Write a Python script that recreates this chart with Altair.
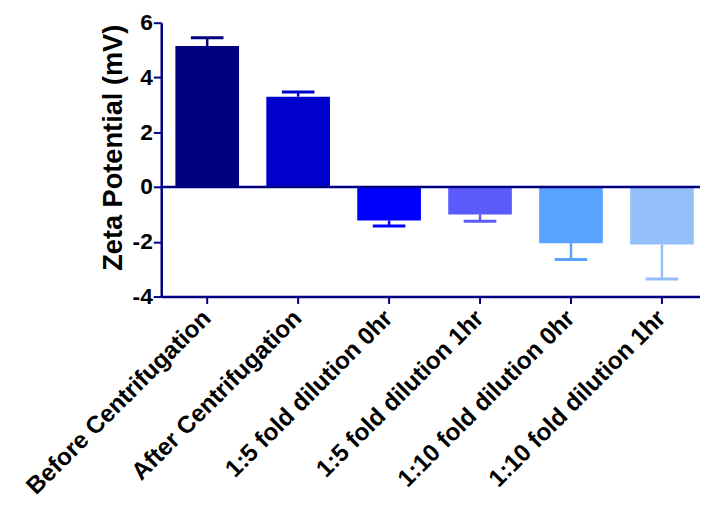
import altair as alt
import pandas as pd

categories = [
    "Before Centrifugation",
    "After Centrifugation",
    "1:5 fold dilution 0hr",
    "1:5 fold dilution 1hr",
    "1:10 fold dilution 0hr",
    "1:10 fold dilution 1hr",
]
values = [5.15, 3.30, -1.22, -1.00, -2.05, -2.10]
errors = [0.30, 0.17, 0.20, 0.25, 0.60, 1.26]
colors = ["#000080", "#0000CC", "#0000FF", "#5B5BFB", "#57A3FF", "#94C0FA"]
y_ticks = [-4, -2, 0, 2, 4, 6]

df = pd.DataFrame({"cat": categories, "value": values, "err": errors})
df["end"] = [v + (e if v >= 0 else -e) for v, e in zip(values, errors)]

NAVY = "#000080"
FONT = "Liberation Sans"

x_enc = alt.X(
    "cat:N",
    sort=categories,
    title=None,
    scale=alt.Scale(paddingInner=0.3, paddingOuter=0.112, align=0.694, round=False),
    axis=alt.Axis(
        labelAngle=-45,
        labelAlign="right",
        labelBaseline="middle",
        labelFont=FONT,
        labelFontSize=24.5,
        labelFontWeight="bold",
        labelColor="black",
        labelPadding=11,
        labelLimit=400,
        tickSize=7,
        tickColor=NAVY,
        tickWidth=2,
        domainColor=NAVY,
        domainWidth=2.5,
        grid=False,
    ),
)
y_scale = alt.Scale(domain=[-4, 6], nice=False, zero=False)
color_enc = alt.Color("cat:N", scale=alt.Scale(domain=categories, range=colors), legend=None)

base = alt.Chart(df)

bars = base.mark_bar(opacity=1).encode(
    x=x_enc,
    y=alt.Y(
        "value:Q",
        scale=y_scale,
        title="Zeta Potential (mV)",
        axis=alt.Axis(
            values=y_ticks,
            labelExpr="(datum.value < 0 ? '-' : '') + abs(datum.value)",
            labelFont=FONT,
            labelFontSize=23,
            labelFontWeight="bold",
            labelColor="black",
            labelPadding=1,
            tickSize=8,
            tickColor=NAVY,
            tickWidth=2,
            domainColor=NAVY,
            domainWidth=2.5,
            grid=False,
            titleFont=FONT,
            titleFontSize=27.5,
            titleFontWeight="bold",
            titleColor="black",
            titleBaseline="alphabetic",
            titleX=-40,
            titleY=126,
        ),
    ),
    y2=alt.datum(0),
    color=color_enc,
)

stems = base.mark_rule(strokeWidth=2.5).encode(
    x=alt.X("cat:N", sort=categories),
    y=alt.Y("value:Q", scale=y_scale),
    y2="end:Q",
    color=color_enc,
)

caps = base.mark_tick(size=33, thickness=3, opacity=1).encode(
    x=alt.X("cat:N", sort=categories),
    y=alt.Y("end:Q", scale=y_scale),
    color=color_enc,
)

zero = alt.Chart(pd.DataFrame({"z": [0]})).mark_rule(color=NAVY, strokeWidth=2.5).encode(
    y=alt.Y("z:Q", scale=y_scale)
)

chart = (
    alt.layer(bars, stems, caps, zero)
    .properties(
        width=545,
        height=277,
        autosize=alt.AutoSizeParams(type="none"),
        padding={"left": 155, "top": 12, "right": 0, "bottom": 210},
    )
    .configure_view(stroke=None)
)

chart.save("out.html", embed_options={"renderer": "svg", "actions": False})
